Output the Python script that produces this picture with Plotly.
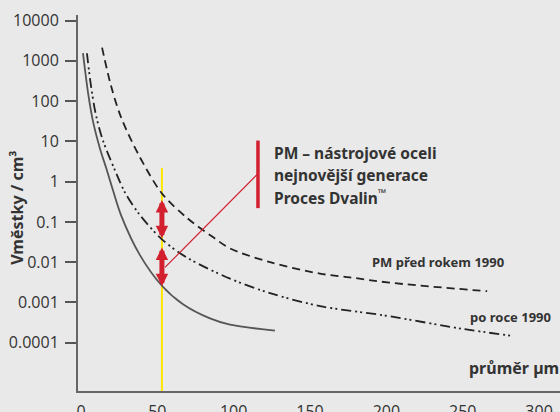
import plotly.graph_objects as go
import numpy as np

# ---- data ----
x_ticks = [0, 50, 100, 150, 200, 250, 300]
y_tickvals = [1e-4, 1e-3, 0.01, 0.1, 1, 10, 100, 1000, 10000]
y_ticktext = ["0.0001", "0.001", "0.01", "0.1", "1", "10", "100", "1000", "10000"]

# "PM – nástrojové oceli nejnovější generace" (solid)
new_x = [1.3, 4.6, 7.9, 12.4, 17.0, 21.0, 26.2, 38.6, 53, 66.8, 84.5, 97.6, 127]
new_y = [1550, 163, 31, 6.7, 1.9, 0.6, 0.148, 0.015, 0.0026, 0.0009, 0.0004, 0.00028, 0.0002]

# "PM před rokem 1990" (dashed)
old_x = [13.8, 19.6, 26.2, 37.3, 53, 69.4, 86.4, 97.6, 123.8, 156.5, 176, 202, 266]
old_y = [2140, 245, 40, 5, 0.51, 0.126, 0.042, 0.022, 0.01, 0.0052, 0.0042, 0.0031, 0.0019]

# "po roce 1990" (dash-dot-dot)
mid_x = [3.9, 6.5, 9.8, 14.4, 22.3, 28.8, 38.6, 53, 69.4, 97.6, 123.8, 156.5, 198, 250, 281]
mid_y = [1550, 245, 45, 10.5, 1.9, 0.54, 0.148, 0.037, 0.013, 0.0039, 0.0017, 0.00081,
         0.00048, 0.00022, 0.00015]

# highlighted diameter and the two improvement arrows
ref_x = 53
yellow_y = [2.2, 10 ** -5.2]
arrow_upper = [0.35, 0.036]
arrow_lower = [0.023, 0.0023]
# callout: red bar and connector
bar_x = 115.9
bar_y = [10.5, 0.22]
conn_x = [55, 115.9]
conn_y = [0.0074, 1.58]

RED = "#d2202f"
TXT = "#333333"

fig = go.Figure()

fig.add_trace(go.Scatter(x=[ref_x, ref_x], y=yellow_y, mode="lines",
                         line=dict(color="#ffe600", width=2), hoverinfo="skip"))
fig.add_trace(go.Scatter(x=new_x, y=new_y, mode="lines",
                         line=dict(color="#555555", width=1.8, shape="spline", smoothing=0.9)))
fig.add_trace(go.Scatter(x=old_x, y=old_y, mode="lines",
                         line=dict(color="#222222", width=1.8, shape="spline", smoothing=0.9,
                                   dash="8px,5px")))
fig.add_trace(go.Scatter(x=mid_x, y=mid_y, mode="lines",
                         line=dict(color="#222222", width=1.8, shape="spline", smoothing=0.9,
                                   dash="10px,4px,2px,3px,2px,4px")))
fig.add_trace(go.Scatter(x=conn_x, y=conn_y, mode="lines",
                         line=dict(color=RED, width=1.2), hoverinfo="skip"))
fig.add_trace(go.Scatter(x=[bar_x, bar_x], y=bar_y, mode="lines",
                         line=dict(color=RED, width=3.5), hoverinfo="skip"))

annotations = []
for a in (arrow_upper, arrow_lower):
    annotations.append(dict(
        x=ref_x, y=np.log10(a[0]), ax=ref_x, ay=np.log10(a[1]),
        xref="x", yref="y", axref="x", ayref="y", text="",
        showarrow=True, arrowside="end+start", arrowhead=2, startarrowhead=2,
        arrowsize=0.5, startarrowsize=0.5, arrowwidth=5, arrowcolor=RED,
        standoff=0, startstandoff=0))

bold16 = dict(family="Noto Sans", size=15.5, color=TXT)
lines = ["<b>PM – nástrojové oceli</b>", "<b>nejnovější generace</b>",
         "<b>Proces Dvalin<sup>™</sup></b>"]
for txt, yp in zip(lines, [0.633, 0.574, 0.516]):
    annotations.append(dict(x=0.4025, y=yp, xref="paper", yref="paper", text=txt,
                            showarrow=False, xanchor="left", yanchor="middle", font=bold16))
annotations.append(dict(x=0.606, y=0.343, xref="paper", yref="paper",
                        text="<b>PM před rokem 1990</b>", showarrow=False,
                        xanchor="left", yanchor="middle",
                        font=dict(family="Noto Sans", size=13, color=TXT)))
annotations.append(dict(x=0.809, y=0.197, xref="paper", yref="paper",
                        text="<b>po roce 1990</b>", showarrow=False,
                        xanchor="left", yanchor="middle",
                        font=dict(family="Noto Sans", size=13, color=TXT)))
annotations.append(dict(x=0.807, y=0.061, xref="paper", yref="paper",
                        text="<b>průměr µm</b>", showarrow=False,
                        xanchor="left", yanchor="middle",
                        font=dict(family="Noto Sans", size=16, color=TXT)))
annotations.append(dict(x=-0.1266, y=0.487, xref="paper", yref="paper",
                        text="<b>Vměstky / cm³</b>", showarrow=False, textangle=-90,
                        xanchor="center", yanchor="middle",
                        font=dict(family="Noto Sans", size=16, color=TXT)))

fig.update_layout(
    width=560, height=412,
    margin=dict(l=78, r=0, t=15, b=21),
    paper_bgcolor="#e9e9e9", plot_bgcolor="#e9e9e9",
    showlegend=False,
    hovermode=False,
    annotations=annotations,
    font=dict(family="Open Sans", color=TXT),
)
fig.update_xaxes(range=[-1.96, 313.7], tickvals=x_ticks, showgrid=False, zeroline=False,
                 automargin=False,
                 showline=True, linecolor="#666666", linewidth=2,
                 ticks="outside", ticklen=5, tickcolor="rgba(0,0,0,0)",
                 tickfont=dict(family="Open Sans", size=16, color=TXT))
fig.update_yaxes(type="log", range=[-5.2, 4.14], tickvals=y_tickvals, ticktext=y_ticktext,
                 automargin=False, ticklabelstandoff=3,
                 showgrid=False, zeroline=False, showline=True, linecolor="#666666",
                 linewidth=2, ticks="outside", ticklen=11, tickwidth=2, tickcolor="#555555",
                 tickfont=dict(family="Open Sans", size=16, color=TXT))

fig.write_html("out.html", config={"displayModeBar": False},
               post_script="document.body.style.margin='0';document.body.style.background='#e9e9e9';")
